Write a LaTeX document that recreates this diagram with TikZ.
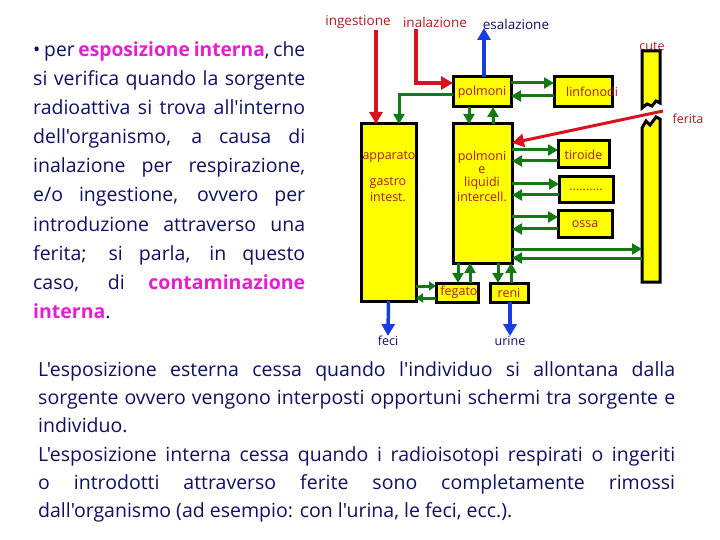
\documentclass[tikz,border=0pt]{standalone}
\usepackage{fontspec}
\usepackage{graphicx}
\setmainfont{Open Sans}[Ligatures=TeXOff]
\usetikzlibrary{arrows.meta}
\definecolor{navy}{RGB}{15,15,100}
\definecolor{mag}{RGB}{230,30,210}
\definecolor{lred}{RGB}{175,25,35}
\definecolor{ared}{RGB}{215,20,30}
\definecolor{agreen}{RGB}{20,120,20}
\definecolor{ablue}{RGB}{25,60,225}
\definecolor{byellow}{RGB}{255,255,0}
\newcommand{\mg}[1]{\textcolor{mag}{\textbf{#1}}}
\newsavebox{\jlbox}
\newcommand{\jl}[2]{%
  \sbox{\jlbox}{\spaceskip=0.2em\relax #2}%
  \ifdim\wd\jlbox>#1\relax
    \resizebox{#1}{\height}{\usebox{\jlbox}}%
  \else
    \makebox[#1][s]{\spaceskip=0.2em plus 1fil\relax #2}%
  \fi}
\begin{document}
\begin{tikzpicture}[x=1pt,y=-1pt,
  box/.style={draw=black,line width=3pt,fill=byellow,inner sep=0pt,outer sep=0pt},
  lbl/.style={text=lred,font=\fontsize{12.5}{13}\selectfont,inner sep=0pt},
  toplbl/.style={font=\fontsize{13.5}{14}\selectfont,inner sep=0pt},
  redarrow/.style={draw=ared,line width=3.5pt,-{Triangle[length=12pt,width=13pt]}},
  bluearrow/.style={draw=ablue,line width=3.5pt,-{Triangle[length=12pt,width=13pt]}},
  garrow/.style={draw=agreen,line width=3pt,-{Triangle[length=10pt,width=11pt]}},
  sarrow/.style={draw=agreen,line width=3pt,-{Triangle[length=7pt,width=9pt]}},
  txt/.style={text=navy,font=\fontsize{19.5}{21}\selectfont,inner sep=0pt,anchor=base west}
]
\useasboundingbox (0,0) rectangle (720,540);

% ---- left text ----
\node[txt] (l1) at (33,57) {\jl{272pt}{\textbullet{} per \mg{esposizione interna}, che}};
\node[txt] (l2) at (33,86) {\jl{272pt}{si verifica quando la sorgente}};
\node[txt] (l3) at (33,115) {\jl{272pt}{radioattiva si trova all'interno}};
\node[txt] (l4) at (33,144) {\jl{272pt}{dell'organismo, a causa di}};
\node[txt] (l5) at (33,173) {\jl{272pt}{inalazione per respirazione,}};
\node[txt] (l6) at (33,202) {\jl{272pt}{e/o ingestione, ovvero per}};
\node[txt] (l7) at (33,231) {\jl{272pt}{introduzione attraverso una}};
\node[txt] (l8) at (33,260) {\jl{272pt}{ferita; si parla, in questo}};
\node[txt] (l9) at (33,289) {\jl{272pt}{caso, di \mg{contaminazione}}};
\node[txt] (l10) at (33,318) {\mg{interna}.};

% ---- bottom text ----
\node[txt] (b1) at (38,376) {\jl{637pt}{L'esposizione esterna cessa quando l'individuo si allontana dalla}};
\node[txt] (b2) at (38,404) {\jl{637pt}{sorgente ovvero vengono interposti opportuni schermi tra sorgente e}};
\node[txt] (b3) at (38,432) {individuo.};
\node[txt] (b4) at (38,461) {\jl{637pt}{L'esposizione interna cessa quando i radioisotopi respirati o ingeriti}};
\node[txt] (b5) at (38,489) {\jl{637pt}{o introdotti attraverso ferite sono completamente rimossi}};
\node[txt] (b6) at (38,517) {dall'organismo (ad esempio: con l'urina, le feci, ecc.).};

% ---- top labels ----
\node[toplbl,text=lred] (ing) at (358,22) {ingestione};
\node[toplbl,text=lred] (ina) at (435,22) {inalazione};
\node[toplbl,text=navy] (esa) at (516,24) {esalazione};
\node[lbl] (cutel) at (652,46) {cute};
\node[lbl] (ferl) at (688,119) {ferita};

% ---- boxes ----
\node[box,minimum width=58pt,minimum height=30pt] (polm) at (482,92) {};
\node[lbl] at (polm) {polmoni};
\node[box,minimum width=58pt,minimum height=30pt] (linf) at (583,92) {};
\node[lbl] at ([xshift=9pt]linf.center) {linfonodi};
\node[box,minimum width=55pt,minimum height=177pt] (app) at (388.5,212.5) {};
\node[lbl] at (389,157) {apparato};
\node[lbl] at (388,183) {gastro};
\node[lbl] at (388,197) {intest.};
\node[box,minimum width=59pt,minimum height=139pt] (pl) at (482.5,193.5) {};
\node[lbl] at (482,157) {polmoni};
\node[lbl] at (482,170) {e};
\node[lbl] at (482,183) {liquidi};
\node[lbl] at (482,197) {intercell.};
\node[box,minimum width=51pt,minimum height=27pt] (tir) at (583.5,154.5) {};
\node[lbl] at (tir) {tiroide};
\node[box,minimum width=54pt,minimum height=26pt] (dots) at (586,190) {};
\node[lbl] at (dots) {..........};
\node[box,minimum width=54pt,minimum height=26pt] (ossa) at (585,224) {};
\node[lbl] at (ossa) {ossa};
\node[box,minimum width=42pt,minimum height=19pt] (feg) at (457,292.5) {};
\node[lbl] at ([xshift=2pt]feg.center) {fegato};
\node[box,minimum width=38pt,minimum height=19pt] (reni) at (509,292.5) {};
\node[lbl] at (reni) {reni};

% ---- cute bar ----
\filldraw[fill=byellow,draw=black,line width=3pt,line join=miter]
  (642,51) -- (660,51) -- (660,103) -- (656,101) -- (652,106) -- (647,104) -- (642,108) -- cycle;
\filldraw[fill=byellow,draw=black,line width=3pt,line join=miter]
  (642,128) -- (646,121) -- (650,125) -- (656,117) -- (660,119) -- (660,282) -- (642,282) -- cycle;
\coordinate (cutew) at (642,250);

% ---- bottom labels ----
\node[lbl,text=navy] (feci) at (388,341) {feci};
\node[lbl,text=navy] (urine) at (510,341) {urine};

% ---- arrows ----
\coordinate (ingstart) at (376,30);
\coordinate (inastart) at (416,29);
\coordinate (fer) at (663,111);
\draw[redarrow] (ingstart) -- (ingstart |- app.north);
\draw[redarrow] (inastart) |- (polm.west |- 0,83);
\draw[bluearrow] (polm.north -| 484,0) -- (484,28);
\draw[redarrow,line width=3pt] (fer) -- (pl.east |- 0,143);

\draw[garrow] (polm.east |- 0,83) -- (linf.west |- 0,83);
\draw[garrow] (linf.west |- 0,96) -- (polm.east |- 0,96);
\draw[garrow] (polm.west |- 0,95) -| ([xshift=10.5pt]app.north);
\draw[garrow] (polm.south -| 469,0) -- (pl.north -| 469,0);
\draw[garrow] (pl.north -| 493,0) -- (polm.south -| 493,0);

\draw[garrow] (pl.east |- 0,150) -- (tir.west |- 0,150);
\draw[garrow] (tir.west |- 0,161) -- (pl.east |- 0,161);
\draw[garrow] (pl.east |- 0,184) -- (dots.west |- 0,184);
\draw[garrow] (dots.west |- 0,195) -- (pl.east |- 0,195);
\draw[garrow] (pl.east |- 0,217) -- (ossa.west |- 0,217);
\draw[garrow] (ossa.west |- 0,229) -- (pl.east |- 0,229);
\draw[garrow] (pl.east |- 0,249) -- (cutew |- 0,249);
\draw[garrow] (cutew |- 0,258) -- (pl.east |- 0,258);

\draw[garrow] (pl.south -| 458,0) -- (feg.north -| 458,0);
\draw[garrow] (feg.north -| 470,0) -- (pl.south -| 470,0);
\draw[garrow] (pl.south -| 498,0) -- (reni.north -| 498,0);
\draw[garrow] (reni.north -| 511,0) -- (pl.south -| 511,0);
\draw[sarrow] (app.east |- 0,286) -- (feg.west |- 0,286);
\draw[sarrow] (feg.west |- 0,298) -- (app.east |- 0,298);

\draw[bluearrow] (app.south) -- (feci.north);
\draw[bluearrow] (reni.south -| urine.north) -- (urine.north);
\end{tikzpicture}
\end{document}
